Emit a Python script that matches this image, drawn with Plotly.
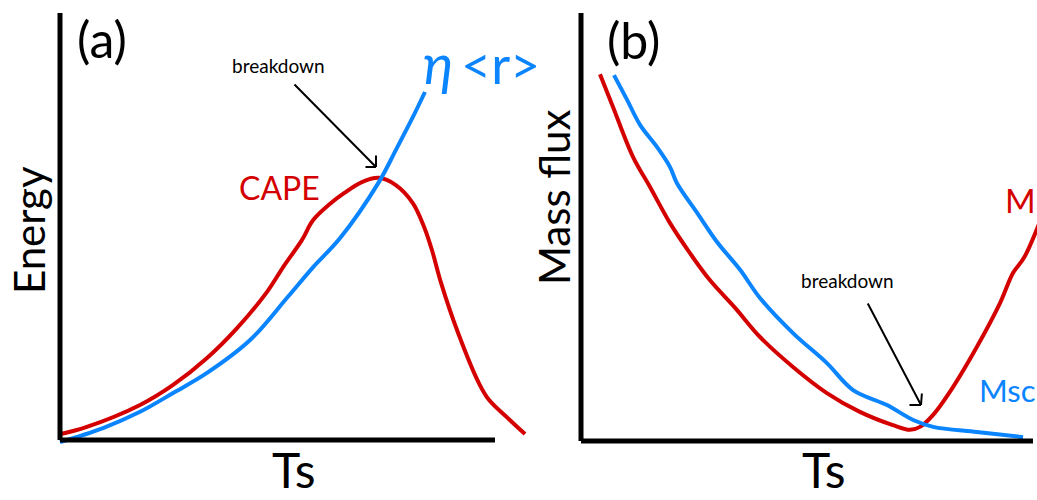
import plotly.graph_objects as go

# Panel (a): energy vs surface temperature (schematic units, axes span 0-100)
ts_cape = [0.2, 6.0, 18.4, 26.0, 33.8, 40.7, 47.6, 51.3, 55.6, 58.2, 62.3, 65.3,
           69.4, 73.3, 77.2, 81.1, 83.7, 85.5, 87.6, 91.5, 96.3, 98.6, 103.4, 106.9]
cape = [1.4, 3.0, 8.2, 12.9, 19.2, 26.2, 34.7, 40.5, 46.8, 51.5, 55.5, 57.8,
        60.4, 61.4, 59.7, 55.5, 49.9, 44.5, 36.8, 25.1, 13.3, 9.4, 4.7, 1.4]
ts_eta = [0.0, 9.9, 18.4, 26.0, 33.8, 43.7, 52.2, 58.2, 64.4, 73.3, 77.2, 81.1, 83.9]
eta_r = [-0.5, 2.8, 6.6, 11.0, 15.7, 23.4, 33.3, 40.5, 47.3, 60.4, 67.9, 75.6, 81.5]

# Panel (b): mass flux vs surface temperature
ts_mc = [4.2, 7.1, 11.5, 15.3, 19.7, 24.1, 28.5, 34.1, 39.6, 46.9, 54.4, 61.7,
         69.0, 72.8, 75.0, 77.9, 82.3, 87.6, 92.7, 95.6, 98.0, 101.5]
mc = [85.7, 78.0, 66.4, 59.3, 50.9, 43.9, 37.6, 31.1, 24.3, 17.3, 11.2, 6.8,
      3.7, 2.6, 3.3, 6.1, 12.6, 22.0, 32.2, 39.3, 42.8, 51.2]
ts_msc = [7.3, 10.2, 13.1, 16.8, 19.7, 21.2, 25.7, 30.1, 35.2, 39.6, 46.9, 54.4,
          60.2, 67.7, 73.5, 77.9, 87.6, 97.8]
msc = [85.5, 79.7, 73.8, 68.7, 64.0, 60.3, 53.3, 46.5, 40.0, 33.4, 25.2, 18.2,
       11.9, 8.4, 4.9, 3.3, 2.1, 0.9]

RED = "#d40000"
BLUE = "#0a84ff"
FONT = "Lato, 'Open Sans', sans-serif"
W, H = 1037, 500

fig = go.Figure()
line_style = dict(width=4, shape="spline", smoothing=1.0)
fig.add_trace(go.Scatter(x=ts_cape, y=cape, mode="lines",
                         line=dict(color=RED, **line_style), xaxis="x", yaxis="y"))
fig.add_trace(go.Scatter(x=ts_eta, y=eta_r, mode="lines",
                         line=dict(color=BLUE, **line_style), xaxis="x", yaxis="y"))
fig.add_trace(go.Scatter(x=ts_mc, y=mc, mode="lines",
                         line=dict(color=RED, **line_style), xaxis="x2", yaxis="y2"))
fig.add_trace(go.Scatter(x=ts_msc, y=msc, mode="lines",
                         line=dict(color=BLUE, **line_style), xaxis="x2", yaxis="y2"))

# Hand-drawn style axis lines (0..100 on each axis)
for xr, yr in (("x", "y"), ("x2", "y2")):
    fig.add_shape(type="line", xref=xr, yref=yr, x0=0, y0=0, x1=100, y1=0,
                  line=dict(color="black", width=5))
    fig.add_shape(type="line", xref=xr, yref=yr, x0=0, y0=0, x1=0, y1=100,
                  line=dict(color="black", width=5))


def px(x, y):
    return x / W, 1 - y / H


def label(text, x, y, size, color="black", angle=0, xanchor="center",
          yanchor="middle", italic=False):
    xp, yp = px(x, y)
    fig.add_annotation(text=text, x=xp, y=yp, xref="paper", yref="paper",
                       showarrow=False, xanchor=xanchor, yanchor=yanchor,
                       textangle=angle, borderpad=0,
                       font=dict(family=FONT, size=size, color=color,
                                 style="italic" if italic else "normal"))


def arrow(tail, head, wings):
    hx, hy = px(*head)
    fig.add_annotation(x=hx, y=hy, xref="paper", yref="paper", text="",
                       showarrow=True, arrowhead=0, arrowwidth=2, arrowcolor="black",
                       ax=tail[0] - head[0], ay=tail[1] - head[1])
    for wx, wy in wings:
        fig.add_annotation(x=hx, y=hy, xref="paper", yref="paper", text="",
                           showarrow=True, arrowhead=0, arrowwidth=2, arrowcolor="black",
                           ax=wx, ay=wy)


label("(a)", 102, 39, 50)
label("(b)", 633, 40, 50)
label("Energy", 29, 230, 42, angle=-90)
label("Mass flux", 554, 197, 42, angle=-90)
label("Ts", 294, 499, 48, yanchor="bottom")
label("Ts", 824, 499, 48, yanchor="bottom")
label("CAPE", 279, 187, 32, color=RED)
label("η", 438, 62, 56, color=BLUE, italic=True)
label("&lt;r&gt;", 500, 64, 52, color=BLUE)
label("M", 1004, 200, 33, color=RED, xanchor="left")
label("Msc", 978, 390, 31, color=BLUE, xanchor="left")
label("breakdown", 278, 65, 19)
label("breakdown", 847, 280, 19)

arrow((293, 83), (376, 167), [(-12, 0), (0, -13)])
arrow((867, 302), (921, 405), [(-13, 0), (1, -13)])

fig.update_layout(
    width=W, height=H,
    margin=dict(l=0, r=0, t=0, b=0),
    paper_bgcolor="white", plot_bgcolor="rgba(0,0,0,0)",
    showlegend=False,
    xaxis=dict(domain=[50 / W, 535 / W], range=[-2.299, 109.195], visible=False),
    yaxis=dict(domain=[0.1, 0.99], range=[-2.342, 101.874], visible=False),
    xaxis2=dict(domain=[571 / W, 1.0], range=[-2.212, 100.885], visible=False),
    yaxis2=dict(domain=[0.1, 0.99], range=[-2.103, 101.869], visible=False),
)

fig.write_html("out.html")
